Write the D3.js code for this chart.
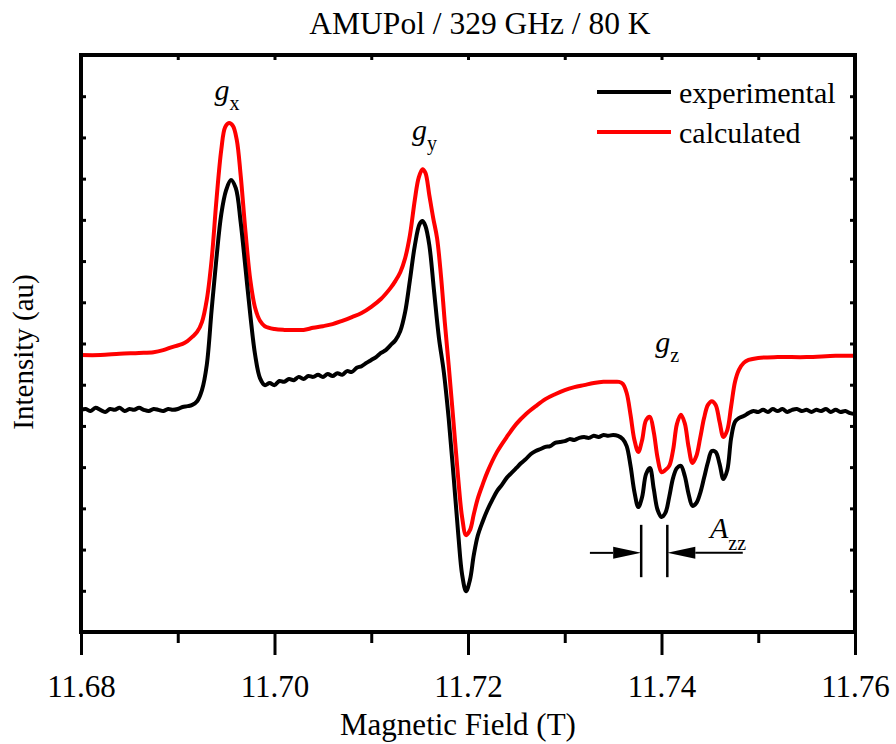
<!DOCTYPE html>
<html>
<head>
<meta charset="utf-8">
<script src="https://cdn.jsdelivr.net/npm/d3@7"></script>
</head>
<body style="margin:0;background:#fff">
<svg id="epr" width="896" height="744" style="display:block;font-family:'Liberation Serif'"></svg>
<script>
// Field values (T) and intensities (au) of the EPR spectra
const expField = [
  11.6800,11.6805,11.6810,11.6815,11.6820,11.6825,11.6830,11.6835,11.6840,11.6845,
  11.6850,11.6855,11.6860,11.6865,11.6870,11.6875,11.6880,11.6885,11.6890,11.6895,
  11.6900,11.6905,11.6910,11.6915,11.6920,11.6925,11.6930,11.6935,11.6940,11.6945,
  11.6950,11.6955,11.6960,11.6965,11.6970,11.6975,11.6980,11.6985,11.6990,11.6995,
  11.7000,11.7005,11.7010,11.7015,11.7020,11.7025,11.7030,11.7035,11.7040,11.7045,
  11.7050,11.7055,11.7060,11.7065,11.7070,11.7075,11.7080,11.7085,11.7090,11.7095,
  11.7100,11.7105,11.7110,11.7115,11.7120,11.7125,11.7130,11.7135,11.7140,11.7145,
  11.7150,11.7153,11.7156,11.7160,11.7165,11.7170,11.7175,11.7180,11.7185,11.7190,
  11.7194,11.7198,11.7202,11.7206,11.7210,11.7215,11.7220,11.7225,11.7230,11.7235,
  11.7240,11.7245,11.7250,11.7255,11.7260,11.7265,11.7270,11.7275,11.7280,11.7285,
  11.7290,11.7295,11.7300,11.7305,11.7310,11.7315,11.7320,11.7325,11.7330,11.7335,
  11.7340,11.7345,11.7350,11.7355,11.7360,11.7364,11.7368,11.7372,11.7376,11.7380,
  11.7384,11.7388,11.7392,11.7396,11.7400,11.7404,11.7408,11.7412,11.7416,11.7420,
  11.7424,11.7428,11.7432,11.7436,11.7440,11.7444,11.7448,11.7452,11.7456,11.7460,
  11.7464,11.7468,11.7472,11.7476,11.7480,11.7485,11.7490,11.7495,11.7500,11.7505,
  11.7510,11.7515,11.7520,11.7525,11.7530,11.7535,11.7540,11.7545,11.7550,11.7555,
  11.7560,11.7565,11.7570,11.7575,11.7580,11.7585,11.7590,11.7595,11.7600
];
const expIntensity = [
  5.39,5.41,5.36,5.44,5.39,5.34,5.41,5.39,5.44,5.36,
  5.41,5.39,5.44,5.39,5.36,5.41,5.39,5.36,5.41,5.39,
  5.41,5.46,5.48,5.51,5.60,5.87,6.48,7.81,9.07,10.14,
  10.72,10.97,10.77,9.95,8.83,7.69,6.72,6.16,5.99,6.04,
  5.99,6.09,6.07,6.14,6.11,6.19,6.14,6.21,6.19,6.24,
  6.19,6.26,6.21,6.28,6.24,6.33,6.31,6.41,6.45,6.53,
  6.60,6.67,6.77,6.84,6.96,7.08,7.30,7.76,8.54,9.37,
  9.90,9.97,9.85,9.39,8.25,7.13,6.31,5.19,3.81,2.35,
  1.38,0.99,1.26,1.87,2.33,2.67,2.96,3.20,3.42,3.57,
  3.74,3.86,3.98,4.10,4.20,4.32,4.39,4.44,4.49,4.51,
  4.59,4.61,4.63,4.68,4.66,4.71,4.73,4.71,4.76,4.73,
  4.78,4.76,4.78,4.76,4.68,4.51,4.03,3.40,3.03,3.28,
  3.83,3.98,3.47,2.96,2.79,2.89,3.28,3.74,3.98,4.03,
  3.79,3.35,3.06,3.13,3.37,3.74,4.12,4.39,4.37,4.08,
  3.71,3.93,4.71,5.10,5.19,5.24,5.31,5.36,5.34,5.39,
  5.34,5.41,5.36,5.41,5.34,5.39,5.41,5.36,5.39,5.34,
  5.39,5.36,5.41,5.34,5.39,5.34,5.36,5.31,5.29
];

const calcField = [
  11.6800,11.6820,11.6840,11.6860,11.6875,11.6885,11.6895,11.6905,11.6910,11.6915,
  11.6920,11.6925,11.6930,11.6935,11.6940,11.6945,11.6949,11.6953,11.6957,11.6961,
  11.6965,11.6970,11.6975,11.6980,11.6985,11.6990,11.7000,11.7010,11.7020,11.7030,
  11.7040,11.7050,11.7060,11.7070,11.7080,11.7090,11.7100,11.7110,11.7120,11.7125,
  11.7130,11.7135,11.7140,11.7145,11.7149,11.7153,11.7156,11.7160,11.7164,11.7168,
  11.7172,11.7176,11.7180,11.7185,11.7190,11.7194,11.7198,11.7202,11.7206,11.7210,
  11.7215,11.7220,11.7230,11.7240,11.7250,11.7260,11.7270,11.7280,11.7290,11.7300,
  11.7310,11.7320,11.7330,11.7340,11.7350,11.7356,11.7360,11.7364,11.7368,11.7372,
  11.7376,11.7380,11.7384,11.7388,11.7392,11.7396,11.7400,11.7404,11.7408,11.7412,
  11.7416,11.7420,11.7424,11.7428,11.7432,11.7436,11.7440,11.7444,11.7448,11.7452,
  11.7456,11.7460,11.7464,11.7468,11.7472,11.7476,11.7480,11.7485,11.7490,11.7500,
  11.7520,11.7550,11.7580,11.7600
];
const calcIntensity = [
  6.72,6.72,6.75,6.77,6.79,6.84,6.92,6.99,7.06,7.16,
  7.28,7.52,8.06,9.03,10.48,11.70,12.25,12.35,12.28,11.94,
  11.09,9.71,8.54,7.86,7.55,7.42,7.35,7.33,7.33,7.33,
  7.38,7.42,7.47,7.55,7.64,7.74,7.89,8.08,8.35,8.52,
  8.73,9.07,9.63,10.48,11.02,11.23,11.14,10.60,10.05,9.56,
  8.66,7.52,6.48,5.10,3.69,2.77,2.35,2.47,2.86,3.23,
  3.57,3.88,4.37,4.73,5.05,5.29,5.48,5.65,5.77,5.87,
  5.94,5.99,6.04,6.07,6.07,6.07,6.02,5.80,5.27,4.66,
  4.37,4.66,5.14,5.22,4.85,4.22,3.88,3.93,4.03,4.42,
  5.05,5.27,5.07,4.49,4.10,4.27,4.71,5.19,5.51,5.60,
  5.51,5.10,4.73,4.90,5.48,6.07,6.36,6.53,6.60,6.65,
  6.67,6.67,6.70,6.70
];

// Axis ticks
const majorTicks = [11.68, 11.70, 11.72, 11.74, 11.76];
const minorTicks = [11.69, 11.71, 11.73, 11.75];
const allFieldTicks = [11.68, 11.69, 11.70, 11.71, 11.72, 11.73, 11.74, 11.75, 11.76];
const intensityTicks = [1,2,3,4,5,6,7,8,9,10,11,12,13];

// Labels
const titleText = "AMUPol / 329 GHz / 80 K";
const xTitle = "Magnetic Field (T)";
const yTitle = "Intensity (au)";
const seriesNames = ["experimental", "calculated"];
const seriesColors = ["#000000", "#ff0000"];

// Peak labels: [main letter, subscript, field, intensity]
const peakLabels = [
  ["g", "x", 11.6951, 12.90],
  ["g", "y", 11.7155, 11.93],
  ["g", "z", 11.7406, 6.80]
];

// Hyperfine splitting marker
const azzFields = [11.7379, 11.7406];
const azzArrowEnds = [11.7326, 11.7484];
const azzSpan = [1.33, 2.60];
const azzLevel = 1.92;

const FONT = "'Liberation Serif'";

const margin = { left: 81, right: 41, top: 55, bottom: 112 };
const W = 896, H = 744;
const svg = d3.select("#epr");

const x = d3.scaleLinear().domain([11.68, 11.76]).range([margin.left, W - margin.right]);
const y = d3.scaleLinear().domain([0, 14]).range([H - margin.bottom, margin.top]);

function addText(parent) {
  return parent.append("text").style("font-family", FONT).attr("fill", "#000");
}

// Title
addText(svg)
  .attr("x", 480).attr("y", 34)
  .attr("text-anchor", "middle")
  .style("font-size", "31.5px")
  .text(titleText);

// Spectra
const line = d3.line()
  .x(d => x(d[0])).y(d => y(d[1]))
  .curve(d3.curveCatmullRom.alpha(0.5));

const expData = expField.map((f, i) => [f, expIntensity[i]]);
const calcData = calcField.map((f, i) => [f, calcIntensity[i]]);

svg.append("path").datum(calcData)
  .attr("d", line).attr("fill", "none")
  .attr("stroke", seriesColors[1]).attr("stroke-width", 4)
  .attr("stroke-linejoin", "round");

svg.append("path").datum(expData)
  .attr("d", line).attr("fill", "none")
  .attr("stroke", seriesColors[0]).attr("stroke-width", 4)
  .attr("stroke-linejoin", "round");

// Axes
const bottom = H - margin.bottom;
const gBottomMajor = svg.append("g").attr("transform", `translate(0,${bottom})`)
  .call(d3.axisBottom(x).tickValues(majorTicks).tickSize(23).tickFormat(d3.format(".2f")));
const gBottomMinor = svg.append("g").attr("transform", `translate(0,${bottom})`)
  .call(d3.axisBottom(x).tickValues(minorTicks).tickSize(11).tickFormat(""));
const gTop = svg.append("g").attr("transform", `translate(0,${margin.top})`)
  .call(d3.axisTop(x).tickValues(allFieldTicks).tickSize(-5).tickFormat(""));
const gLeft = svg.append("g").attr("transform", `translate(${margin.left},0)`)
  .call(d3.axisLeft(y).tickValues(intensityTicks).tickSize(-5).tickFormat(""));
const gRight = svg.append("g").attr("transform", `translate(${W - margin.right},0)`)
  .call(d3.axisRight(y).tickValues(intensityTicks).tickSize(-5).tickFormat(""));

[gBottomMajor, gBottomMinor, gTop, gLeft, gRight].forEach(g => {
  g.attr("font-family", null).style("font-family", FONT);
  g.select(".domain").remove();
  g.selectAll(".tick line").attr("stroke", "#000").attr("stroke-width", 3);
});
gBottomMajor.selectAll(".tick text")
  .attr("y", 65).attr("dy", 0)
  .style("font-family", FONT).style("font-size", "31px").attr("fill", "#000");

// Frame
svg.append("rect")
  .attr("x", margin.left).attr("y", margin.top)
  .attr("width", W - margin.right - margin.left)
  .attr("height", bottom - margin.top)
  .attr("fill", "none").attr("stroke", "#000").attr("stroke-width", 4);

// Axis titles
addText(svg)
  .attr("x", 458).attr("y", 735)
  .attr("text-anchor", "middle").style("font-size", "31px")
  .text(xTitle);
addText(svg)
  .attr("transform", "translate(33,352) rotate(-90)")
  .attr("text-anchor", "middle").style("font-size", "29px")
  .text(yTitle);

// Legend
const legendX0 = 597, legendX1 = 671;
seriesNames.forEach((name, i) => {
  const ly = 92 + i * 40;
  svg.append("line")
    .attr("x1", legendX0).attr("x2", legendX1)
    .attr("y1", ly).attr("y2", ly)
    .attr("stroke", seriesColors[i]).attr("stroke-width", 4);
  addText(svg)
    .attr("x", 679).attr("y", ly + 11)
    .style("font-size", "30px")
    .text(name);
});

// Peak labels
peakLabels.forEach(([main, sub, f, v]) => {
  const t = addText(svg)
    .attr("x", x(f)).attr("y", y(v))
    .attr("text-anchor", "middle")
    .style("font-size", "30px");
  t.append("tspan").style("font-style", "italic").text(main);
  t.append("tspan").style("font-size", "20px").attr("dy", 10).text(sub);
});

// A_zz marker
azzFields.forEach(f => {
  svg.append("line")
    .attr("x1", x(f)).attr("x2", x(f))
    .attr("y1", y(azzSpan[0])).attr("y2", y(azzSpan[1]))
    .attr("stroke", "#000").attr("stroke-width", 2.5);
});
const ay = y(azzLevel);
const headLen = 28, headHalf = 6;
// left arrow pointing right
svg.append("line")
  .attr("x1", x(azzArrowEnds[0])).attr("x2", x(azzFields[0]) - headLen)
  .attr("y1", ay).attr("y2", ay)
  .attr("stroke", "#000").attr("stroke-width", 2);
svg.append("path")
  .attr("d", `M${x(azzFields[0])},${ay} L${x(azzFields[0]) - headLen},${ay - headHalf} L${x(azzFields[0]) - headLen},${ay + headHalf} Z`)
  .attr("fill", "#000");
// right arrow pointing left
svg.append("line")
  .attr("x1", x(azzArrowEnds[1])).attr("x2", x(azzFields[1]) + headLen)
  .attr("y1", ay).attr("y2", ay)
  .attr("stroke", "#000").attr("stroke-width", 2);
svg.append("path")
  .attr("d", `M${x(azzFields[1])},${ay} L${x(azzFields[1]) + headLen},${ay - headHalf} L${x(azzFields[1]) + headLen},${ay + headHalf} Z`)
  .attr("fill", "#000");

const azz = addText(svg)
  .attr("x", 710).attr("y", 538)
  .style("font-size", "30px");
azz.append("tspan").style("font-style", "italic").text("A");
azz.append("tspan").style("font-size", "20px").attr("dy", 12).text("zz");
</script>
</body>
</html>
